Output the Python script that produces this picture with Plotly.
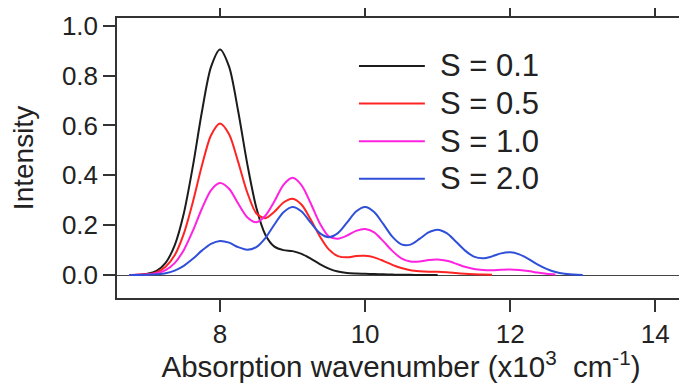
import plotly.graph_objects as go

# ---- data ----
wavenumber = [6.75, 6.875, 7.0, 7.125, 7.25, 7.375, 7.5, 7.625, 7.75, 7.875,
              8.0, 8.125, 8.25, 8.375, 8.5, 8.625, 8.75, 8.875, 9.0, 9.125,
              9.25, 9.375, 9.5, 9.625, 9.75, 9.875, 10.0, 10.125, 10.25, 10.375,
              10.5, 10.625, 10.75, 10.875, 11.0, 11.125, 11.25, 11.375, 11.5, 11.625,
              11.75, 11.875, 12.0, 12.125, 12.25, 12.375, 12.5, 12.625, 12.75, 12.875,
              13.0]

s01 = [0.000, 0.001, 0.005, 0.017, 0.049, 0.119, 0.246, 0.435, 0.654, 0.834,
       0.905, 0.836, 0.658, 0.447, 0.271, 0.162, 0.114, 0.100, 0.096, 0.085,
       0.066, 0.044, 0.026, 0.014, 0.008, 0.006, 0.005, 0.004, 0.003, 0.002,
       0.001, 0.001, 0.000, 0.000, 0.000]

s05 = [0.000, 0.001, 0.003, 0.011, 0.033, 0.079, 0.165, 0.292, 0.438, 0.560,
       0.608, 0.565, 0.454, 0.332, 0.248, 0.228, 0.254, 0.291, 0.306, 0.282,
       0.223, 0.156, 0.103, 0.076, 0.071, 0.076, 0.077, 0.071, 0.057, 0.041,
       0.028, 0.019, 0.015, 0.013, 0.013, 0.011, 0.008, 0.005, 0.003, 0.002,
       0.001]

s10 = [0.000, 0.001, 0.002, 0.007, 0.020, 0.048, 0.100, 0.177, 0.266, 0.340,
       0.369, 0.346, 0.287, 0.232, 0.212, 0.238, 0.296, 0.362, 0.390, 0.360,
       0.288, 0.208, 0.155, 0.146, 0.158, 0.177, 0.185, 0.171, 0.136, 0.097,
       0.067, 0.054, 0.054, 0.060, 0.062, 0.057, 0.046, 0.033, 0.024, 0.020,
       0.019, 0.021, 0.022, 0.020, 0.016, 0.010, 0.005, 0.002]

s20 = [0.000, 0.000, 0.001, 0.003, 0.007, 0.018, 0.037, 0.065, 0.098, 0.125,
       0.137, 0.130, 0.112, 0.102, 0.112, 0.148, 0.203, 0.252, 0.273, 0.255,
       0.210, 0.168, 0.152, 0.168, 0.210, 0.255, 0.273, 0.253, 0.205, 0.154,
       0.123, 0.122, 0.145, 0.171, 0.182, 0.168, 0.135, 0.099, 0.074, 0.067,
       0.075, 0.087, 0.091, 0.083, 0.065, 0.043, 0.025, 0.012, 0.005, 0.002,
       0.000]

series_names = ["S = 0.1", "S = 0.5", "S = 1.0", "S = 2.0"]
series_values = [s01, s05, s10, s20]
series_colors = ["#1c1c1c", "#ff2424", "#ff22e0", "#2f4fd8"]

x_ticks = [8, 10, 12, 14]
y_ticks = [0.0, 0.2, 0.4, 0.6, 0.8, 1.0]
x_range = [6.58, 14.41]
y_range = [-0.092, 1.031]

FONT = "Liberation Sans, Arial, Helvetica, sans-serif"
TXT = "#222222"
AX = "#333333"

fig = go.Figure()
for name, vals, col in zip(series_names, series_values, series_colors):
    fig.add_trace(go.Scatter(
        x=wavenumber[:len(vals)], y=vals, mode="lines", name=name,
        line=dict(color=col, width=2, shape="spline", smoothing=0.8),
        showlegend=False, hoverinfo="skip"))

# custom legend (long line samples like the reference)
leg_top = 0.829
leg_step = 0.1345
for i, (name, col) in enumerate(zip(series_names, series_colors)):
    yy = leg_top - i * leg_step
    fig.add_shape(type="line", xref="paper", yref="paper",
                  x0=0.426, x1=0.542, y0=yy, y1=yy,
                  line=dict(color=col, width=2))
    fig.add_annotation(xref="paper", yref="paper", x=0.566, y=yy,
                       text=name, showarrow=False, xanchor="left",
                       yanchor="middle",
                       font=dict(family=FONT, size=31, color=TXT))

axis_common = dict(
    showline=True, linecolor=AX, linewidth=1.5, mirror="ticks",
    ticks="outside", ticklen=12, tickwidth=1.5, tickcolor=AX,
    showgrid=False, automargin=False,
    tickfont=dict(family=FONT, size=26, color=TXT),
)

fig.update_xaxes(
    range=x_range, tickvals=x_ticks, ticktext=[str(v) for v in x_ticks],
    zeroline=False,
    title=dict(text="Absorption wavenumber (x10<sup>3</sup> &nbsp;cm<sup>-1</sup>)",
               font=dict(family=FONT, size=29.5, color=TXT), standoff=0),
    **axis_common)
fig.update_yaxes(
    range=y_range, tickvals=y_ticks, ticktext=[f"{v:.1f}" for v in y_ticks],
    zeroline=True, zerolinecolor="#444444", zerolinewidth=1,
    title=dict(text="Intensity", font=dict(family=FONT, size=28, color=TXT),
               standoff=20),
    **axis_common)

# the page adds an 8 px body margin, so the figure is 8 px smaller
fig.update_layout(
    width=679, height=375,
    margin=dict(l=109, r=2, t=10, b=85),
    paper_bgcolor="white", plot_bgcolor="white",
    font=dict(family=FONT, color=TXT),
)

fig.write_html("out.html")
